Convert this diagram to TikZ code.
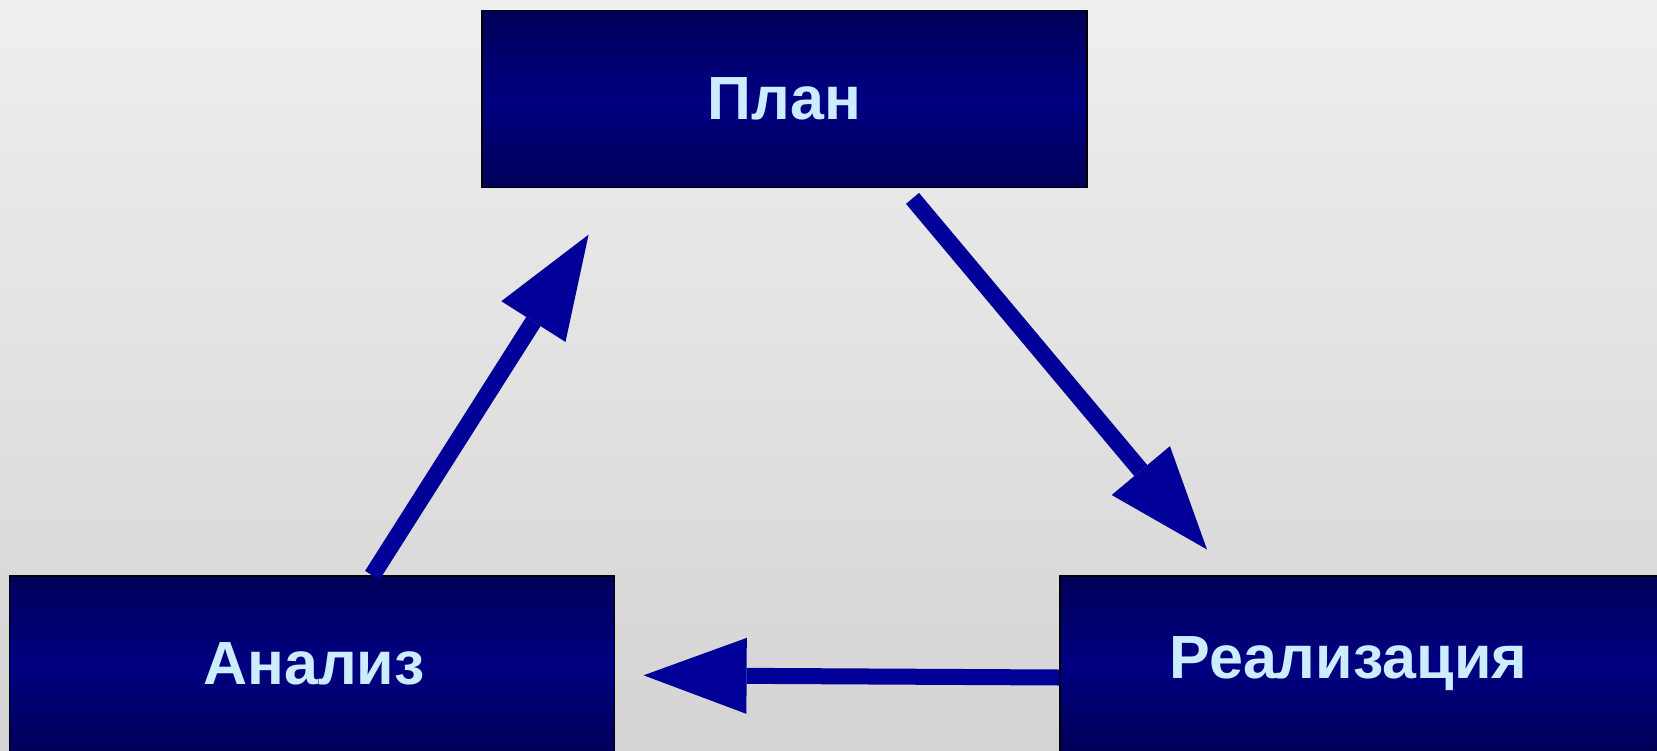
\documentclass[tikz,border=0pt]{standalone}
\usepackage{fontspec}
\setmainfont{Liberation Sans}[BoldFont={Liberation Sans Bold}]
\newfontfamily\stagefont{Liberation Sans Bold}
\usetikzlibrary{arrows.meta}
\definecolor{bgtop}{RGB}{239,239,239}
\definecolor{bgbot}{RGB}{212,212,212}
\definecolor{boxdark}{RGB}{0,0,88}
\definecolor{boxmid}{RGB}{0,0,130}
\definecolor{arrblue}{RGB}{0,0,153}
\definecolor{txtblue}{RGB}{204,236,255}
\tikzset{
  stagebox/.style={draw=black, line width=1.2pt, minimum width=605pt, minimum height=177pt,
    inner sep=0pt, top color=boxdark, bottom color=boxdark, middle color=boxmid},
  stagetext/.style={text=txtblue, font=\stagefont\fontsize{61}{70}\selectfont, inner sep=0pt},
  arr/.style={draw=arrblue, line width=17pt,
    -{Triangle[length=103pt,width=76pt,line width=0pt]}, fill=arrblue},
}
\begin{document}
\begin{tikzpicture}[x=1pt,y=-1pt]
\useasboundingbox (0,0) rectangle (1657,750);
\shade[top color=bgtop, bottom color=bgbot] (0,0) rectangle (1657,750);
\node[stagebox] (plan) at (784.5,99.3) {};
\node[stagetext] (plantext) at (plan.center) {План};
\node[stagebox] (ana) at (312.25,664.5) {};
\node[stagetext] (anatext) at (314,664) {Анализ};
\node[stagebox] (real) at (1362.5,664.5) {};
\node[stagetext] (realtext) at (1348.5,664) {Реализация};
\coordinate (t1) at (588.6,234.6);
\coordinate (t2) at (1207,549.5);
\coordinate (t3) at (643.6,675.3);
\draw[arr] ([xshift=60pt]ana.north) -- (t1);
\draw[arr] ([xshift=128pt,yshift=-10pt]plan.south) -- (t2);
\draw[arr, line width=16pt] ([yshift=-13pt]real.west) -- (t3);
\end{tikzpicture}
\end{document}
